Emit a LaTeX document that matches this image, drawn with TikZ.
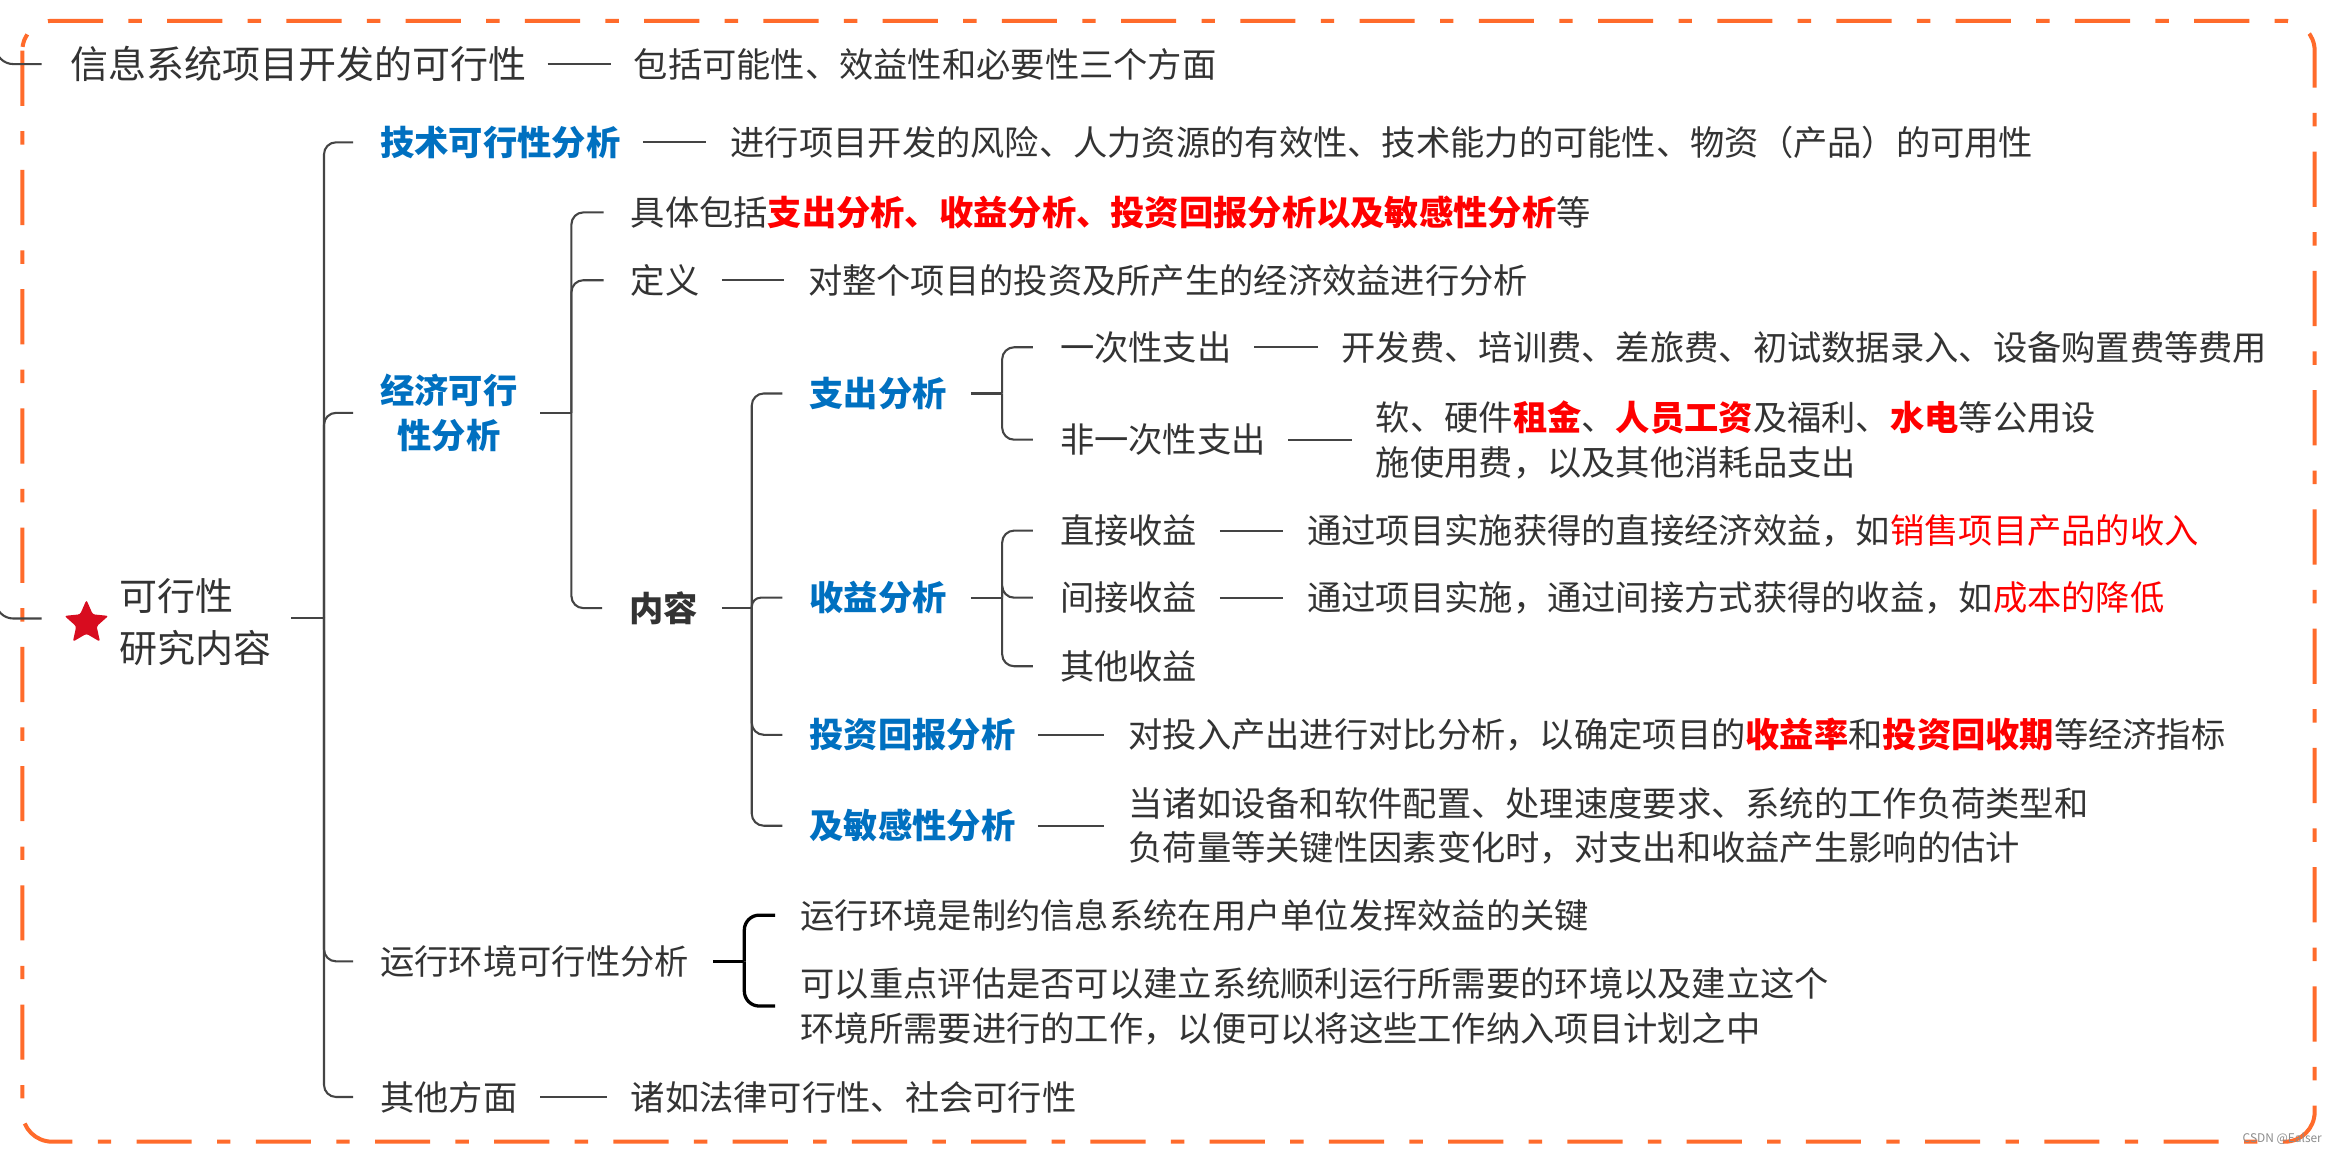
\documentclass[tikz,border=0pt]{standalone}
\usepackage{fontspec}
\setmainfont{Noto Sans CJK SC}
\definecolor{txt}{HTML}{333333}
\definecolor{lnc}{HTML}{444444}
\definecolor{blu}{HTML}{0070C0}
\definecolor{rd}{HTML}{FF0000}
\definecolor{org}{HTML}{FF6B2B}
\definecolor{starc}{HTML}{D80C1F}
\newcommand\redb[1]{{\color{rd}\bfseries #1}}
\tikzset{
  tx/.style={anchor=west, inner sep=0pt, text=txt, font=\fontsize{23}{30}\selectfont, text height=19.1pt, text depth=1.6pt},
  txm/.style={anchor=west, inner sep=0pt, text=txt, font=\fontsize{23}{30}\selectfont, align=left},
  bigf/.style={font=\fontsize{25.5}{35}\selectfont, text height=21.2pt, text depth=1.8pt},
  bb/.style={text=blu, font=\fontsize{23}{30}\selectfont\bfseries},
  conn/.style={draw=lnc, line width=1.4pt, rounded corners=8pt},
  connb/.style={draw=black, line width=2.2pt, rounded corners=10pt},
  dashline/.style={draw=lnc, line width=1.4pt},
}
\begin{document}
\begin{tikzpicture}[x=1pt,y=-1pt]
\useasboundingbox (0,0) rectangle (1568,774);
\fill[white] (0,0) rectangle (1568,774);
% frame
\draw[org, line width=2.7pt, rounded corners=20pt, dash pattern=on 37pt off 17pt on 9pt off 17pt] (15,14) rectangle (1553,766);

% star
\fill[starc, rounded corners=1.5pt, shift={(58,418)}] (-90:15.5) -- (-54:7.2) -- (-18:15.5) -- (18:7.2) -- (54:15.5) -- (90:7.2) -- (126:15.5) -- (162:7.2) -- (198:15.5) -- (234:7.2) -- cycle;

% nodes
\node[tx, bigf] (title) at (47,43) {信息系统项目开发的可行性};
\node[tx] (titled) at (425,43) {包括可能性、效益性和必要性三个方面};
\node[txm, font=\fontsize{25.5}{35}\selectfont] (root) at (80,417.5) {可行性\\研究内容};

\node[tx, bb] (tech) at (255,95.5) {技术可行性分析};
\node[tx] (techd) at (490,95.5) {进行项目开发的风险、人力资源的有效性、技术能力的可能性、物资（产品）的可用性};

\node[txm, bb, align=center] (econ) at (255,277) {经济可行\\性分析};
\node[tx] (econ1) at (423,142.5) {具体包括\redb{支出分析、收益分析、投资回报分析以及敏感性分析}等};
\node[tx] (econ2) at (423,188) {定义};
\node[tx] (econ2d) at (542,188) {对整个项目的投资及所产生的经济效益进行分析};
\node[tx, font=\fontsize{23}{30}\selectfont\bfseries] (cont) at (422,408) {内容};

\node[tx, bb] (zc) at (543,264) {支出分析};
\node[tx] (zc1) at (711,233) {一次性支出};
\node[tx] (zc1d) at (900,233) {开发费、培训费、差旅费、初试数据录入、设备购置费等费用};
\node[tx] (zc2) at (711,295) {非一次性支出};
\node[txm] (zc2d) at (923,295) {软、硬件\redb{租金}、\redb{人员工资}及福利、\redb{水电}等公用设\\施使用费，以及其他消耗品支出};

\node[tx, bb] (sy) at (543,401) {收益分析};
\node[tx] (sy1) at (711,356) {直接收益};
\node[tx] (sy1d) at (877,356) {通过项目实施获得的直接经济效益，如{\color{rd}销售项目产品的收入}};
\node[tx] (sy2) at (711,401) {间接收益};
\node[tx] (sy2d) at (877,401) {通过项目实施，通过间接方式获得的收益，如{\color{rd}成本的降低}};
\node[tx] (sy3) at (711,447) {其他收益};

\node[tx, bb] (tz) at (543,493) {投资回报分析};
\node[tx] (tzd) at (757,493) {对投入产出进行对比分析，以确定项目的\redb{收益率}和\redb{投资回收期}等经济指标};
\node[tx, bb] (mg) at (543,554) {及敏感性分析};
\node[txm] (mgd) at (757,554) {当诸如设备和软件配置、处理速度要求、系统的工作负荷类型和\\负荷量等关键性因素变化时，对支出和收益产生影响的估计};

\node[tx] (re) at (255,645) {运行环境可行性分析};
\node[tx] (re1) at (537,614) {运行环境是制约信息系统在用户单位发挥效益的关键};
\node[txm] (re2) at (537,675) {可以重点评估是否可以建立系统顺利运行所需要的环境以及建立这个\\环境所需要进行的工作，以便可以将这些工作纳入项目计划之中};

\node[tx] (oth) at (255,736) {其他方面};
\node[tx] (othd) at (423,736) {诸如法律可行性、社会可行性};

\node[anchor=east, inner sep=0pt, text=black!45, font=\fontsize{8}{9}\selectfont] (wm) at (1558,764) {CSDN @Ealser};

% left edge partial connectors
\coordinate (ltop) at (-3,10);
\draw[conn, rounded corners=12pt] (ltop) -- (ltop |- title.west) -- ([xshift=-19pt]title.west);
\coordinate (lroot) at (28,415);
\coordinate (lmid) at (-3,380);
\draw[conn, rounded corners=12pt] (lmid) -- (lmid |- lroot) -- (lroot);

% root bracket
\coordinate (rj) at ([xshift=35pt,yshift=3pt]root.east);
\draw[conn] ([xshift=13pt,yshift=3pt]root.east) -- (rj);
\foreach \c in {tech,econ,re,oth}
  \draw[conn] (rj) -- (rj |- \c.west) -- ([xshift=-18pt]\c.west);

% econ bracket
\coordinate (ej) at ([xshift=36pt]econ.east);
\draw[conn] ([xshift=15pt]econ.east) -- (ej);
\foreach \c in {econ1,econ2,cont}
  \draw[conn] (ej) -- (ej |- \c.west) -- ([xshift=-18pt]\c.west);

% content bracket
\coordinate (cj) at ([xshift=36pt]cont.east);
\draw[conn] ([xshift=16pt]cont.east) -- (cj);
\foreach \c in {zc,tz,mg}
  \draw[conn] (cj) -- (cj |- \c.west) -- ([xshift=-18pt]\c.west);
\draw[conn, rounded corners=6pt] (cj) -- (cj |- sy.west) -- ([xshift=-18pt]sy.west);

% zc bracket
\coordinate (zj) at ([xshift=37pt]zc.east);
\draw[conn] ([xshift=16pt]zc.east) -- (zj);
\foreach \c in {zc1,zc2}
  \draw[conn] (zj) -- (zj |- \c.west) -- ([xshift=-18pt]\c.west);

% sy bracket
\coordinate (sj) at ([xshift=37pt]sy.east);
\draw[conn] ([xshift=16pt]sy.east) -- (sj);
\foreach \c in {sy1,sy2,sy3}
  \draw[conn] (sj) -- (sj |- \c.west) -- ([xshift=-18pt]\c.west);

% run env bracket
\coordinate (vj) at ([xshift=37pt]re.east);
\draw[connb] ([xshift=16pt]re.east) -- (vj);
\foreach \c in {re1,re2}
  \draw[connb] (vj) -- (vj |- \c.west) -- ([xshift=-17pt]\c.west);

% dashes
\draw[dashline] ([xshift=14pt]title.east) -- ([xshift=-15pt]titled.west);
\foreach \a/\b in {tech/techd,econ2/econ2d,zc1/zc1d,zc2/zc2d,sy1/sy1d,sy2/sy2d,tz/tzd,mg/mgd,oth/othd}
  \draw[dashline] ([xshift=15pt]\a.east) -- ([xshift=-16pt]\b.west);
\end{tikzpicture}
\end{document}
